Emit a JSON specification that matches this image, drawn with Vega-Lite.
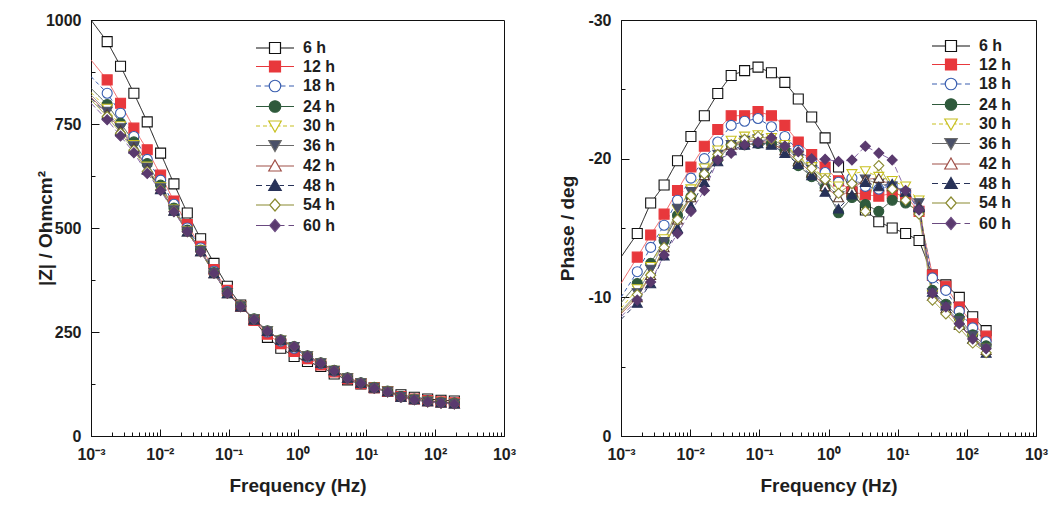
{
"$schema": "https://vega.github.io/schema/vega-lite/v6.json",
"background": "white",
"padding": {"left": 35, "top": 11, "right": 5, "bottom": 5},
"spacing": 41,
"datasets": {"bode": [
{"h":"6 h","f":0.001,"Z":1000,"P":-12.9},{"h":"6 h","f":0.001718,"Z":948,"P":-14.6},{"h":"6 h","f":0.002685,"Z":889,"P":-16.8},{"h":"6 h","f":0.004198,"Z":824,"P":-18.1},{"h":"6 h","f":0.006561,"Z":755,"P":-19.85},{"h":"6 h","f":0.01026,"Z":680,"P":-21.6},{"h":"6 h","f":0.01603,"Z":606,"P":-23.1},{"h":"6 h","f":0.02506,"Z":536,"P":-24.7},{"h":"6 h","f":0.03917,"Z":474,"P":-26.0},{"h":"6 h","f":0.06124,"Z":415,"P":-26.35},{"h":"6 h","f":0.09572,"Z":360,"P":-26.6},{"h":"6 h","f":0.1496,"Z":315,"P":-26.2},{"h":"6 h","f":0.2339,"Z":279,"P":-25.5},{"h":"6 h","f":0.3656,"Z":237,"P":-24.3},{"h":"6 h","f":0.5715,"Z":211,"P":-23.0},{"h":"6 h","f":0.8933,"Z":191,"P":-21.5},{"h":"6 h","f":1.396,"Z":179,"P":-19.4},{"h":"6 h","f":2.183,"Z":167,"P":-17.6},{"h":"6 h","f":3.412,"Z":149,"P":-16.3},{"h":"6 h","f":5.333,"Z":135,"P":-15.45},{"h":"6 h","f":8.337,"Z":125,"P":-15.0},{"h":"6 h","f":13.03,"Z":116,"P":-14.6},{"h":"6 h","f":20.37,"Z":107,"P":-14.1},{"h":"6 h","f":31.84,"Z":99,"P":-11.6},{"h":"6 h","f":49.77,"Z":93,"P":-10.9},{"h":"6 h","f":77.8,"Z":89,"P":-10.0},{"h":"6 h","f":121.6,"Z":86,"P":-8.6},{"h":"6 h","f":190.1,"Z":84,"P":-7.6},
{"h":"12 h","f":0.001,"Z":904,"P":-11.0},{"h":"12 h","f":0.001718,"Z":856,"P":-12.9},{"h":"12 h","f":0.002685,"Z":800,"P":-14.5},{"h":"12 h","f":0.004198,"Z":740,"P":-16.0},{"h":"12 h","f":0.006561,"Z":688,"P":-17.7},{"h":"12 h","f":0.01026,"Z":627,"P":-19.4},{"h":"12 h","f":0.01603,"Z":565,"P":-20.9},{"h":"12 h","f":0.02506,"Z":508,"P":-22.1},{"h":"12 h","f":0.03917,"Z":456,"P":-23.1},{"h":"12 h","f":0.06124,"Z":400,"P":-23.1},{"h":"12 h","f":0.09572,"Z":350,"P":-23.4},{"h":"12 h","f":0.1496,"Z":312,"P":-23.1},{"h":"12 h","f":0.2339,"Z":278,"P":-22.4},{"h":"12 h","f":0.3656,"Z":245,"P":-21.2},{"h":"12 h","f":0.5715,"Z":222,"P":-20.3},{"h":"12 h","f":0.8933,"Z":203,"P":-19.4},{"h":"12 h","f":1.396,"Z":186,"P":-18.4},{"h":"12 h","f":2.183,"Z":171,"P":-17.6},{"h":"12 h","f":3.412,"Z":154,"P":-17.4},{"h":"12 h","f":5.333,"Z":138,"P":-17.3},{"h":"12 h","f":8.337,"Z":126,"P":-17.5},{"h":"12 h","f":13.03,"Z":116,"P":-17.3},{"h":"12 h","f":20.37,"Z":107,"P":-16.2},{"h":"12 h","f":31.84,"Z":95,"P":-11.6},{"h":"12 h","f":49.77,"Z":89,"P":-10.8},{"h":"12 h","f":77.8,"Z":85,"P":-9.3},{"h":"12 h","f":121.6,"Z":82,"P":-8.1},{"h":"12 h","f":190.1,"Z":80,"P":-7.2},
{"h":"18 h","f":0.001,"Z":864,"P":-10.0},{"h":"18 h","f":0.001718,"Z":824,"P":-11.85},{"h":"18 h","f":0.002685,"Z":776,"P":-13.6},{"h":"18 h","f":0.004198,"Z":720,"P":-15.2},{"h":"18 h","f":0.006561,"Z":665,"P":-17.0},{"h":"18 h","f":0.01026,"Z":615,"P":-18.6},{"h":"18 h","f":0.01603,"Z":557,"P":-20.0},{"h":"18 h","f":0.02506,"Z":500,"P":-21.2},{"h":"18 h","f":0.03917,"Z":452,"P":-22.4},{"h":"18 h","f":0.06124,"Z":396,"P":-22.7},{"h":"18 h","f":0.09572,"Z":347,"P":-22.9},{"h":"18 h","f":0.1496,"Z":312,"P":-22.3},{"h":"18 h","f":0.2339,"Z":280,"P":-21.6},{"h":"18 h","f":0.3656,"Z":250,"P":-20.6},{"h":"18 h","f":0.5715,"Z":228,"P":-19.7},{"h":"18 h","f":0.8933,"Z":211,"P":-19.0},{"h":"18 h","f":1.396,"Z":190,"P":-18.3},{"h":"18 h","f":2.183,"Z":174,"P":-18.6},{"h":"18 h","f":3.412,"Z":156,"P":-18.0},{"h":"18 h","f":5.333,"Z":139,"P":-17.8},{"h":"18 h","f":8.337,"Z":127,"P":-18.1},{"h":"18 h","f":13.03,"Z":116,"P":-17.6},{"h":"18 h","f":20.37,"Z":107,"P":-16.3},{"h":"18 h","f":31.84,"Z":94,"P":-11.4},{"h":"18 h","f":49.77,"Z":88,"P":-10.5},{"h":"18 h","f":77.8,"Z":84,"P":-9.0},{"h":"18 h","f":121.6,"Z":81,"P":-7.8},{"h":"18 h","f":190.1,"Z":79,"P":-6.8},
{"h":"24 h","f":0.001,"Z":836,"P":-9.6},{"h":"24 h","f":0.001718,"Z":797,"P":-11.0},{"h":"24 h","f":0.002685,"Z":752,"P":-12.45},{"h":"24 h","f":0.004198,"Z":707,"P":-14.1},{"h":"24 h","f":0.006561,"Z":655,"P":-15.9},{"h":"24 h","f":0.01026,"Z":603,"P":-17.25},{"h":"24 h","f":0.01603,"Z":548,"P":-18.8},{"h":"24 h","f":0.02506,"Z":495,"P":-19.95},{"h":"24 h","f":0.03917,"Z":447,"P":-21.0},{"h":"24 h","f":0.06124,"Z":393,"P":-21.0},{"h":"24 h","f":0.09572,"Z":345,"P":-21.1},{"h":"24 h","f":0.1496,"Z":313,"P":-21.1},{"h":"24 h","f":0.2339,"Z":282,"P":-20.6},{"h":"24 h","f":0.3656,"Z":253,"P":-19.5},{"h":"24 h","f":0.5715,"Z":231,"P":-18.7},{"h":"24 h","f":0.8933,"Z":215,"P":-17.9},{"h":"24 h","f":1.396,"Z":193,"P":-16.1},{"h":"24 h","f":2.183,"Z":176,"P":-17.2},{"h":"24 h","f":3.412,"Z":158,"P":-16.7},{"h":"24 h","f":5.333,"Z":140,"P":-16.2},{"h":"24 h","f":8.337,"Z":128,"P":-17.0},{"h":"24 h","f":13.03,"Z":117,"P":-16.8},{"h":"24 h","f":20.37,"Z":108,"P":-16.2},{"h":"24 h","f":31.84,"Z":95,"P":-10.5},{"h":"24 h","f":49.77,"Z":89,"P":-9.5},{"h":"24 h","f":77.8,"Z":84,"P":-8.5},{"h":"24 h","f":121.6,"Z":81,"P":-7.3},{"h":"24 h","f":190.1,"Z":79,"P":-6.5},
{"h":"30 h","f":0.001,"Z":826,"P":-9.2},{"h":"30 h","f":0.001718,"Z":787,"P":-10.6},{"h":"30 h","f":0.002685,"Z":745,"P":-12.2},{"h":"30 h","f":0.004198,"Z":700,"P":-14.2},{"h":"30 h","f":0.006561,"Z":648,"P":-16.3},{"h":"30 h","f":0.01026,"Z":598,"P":-17.8},{"h":"30 h","f":0.01603,"Z":545,"P":-19.3},{"h":"30 h","f":0.02506,"Z":493,"P":-20.6},{"h":"30 h","f":0.03917,"Z":446,"P":-21.3},{"h":"30 h","f":0.06124,"Z":392,"P":-21.6},{"h":"30 h","f":0.09572,"Z":344,"P":-21.7},{"h":"30 h","f":0.1496,"Z":312,"P":-21.5},{"h":"30 h","f":0.2339,"Z":281,"P":-21.0},{"h":"30 h","f":0.3656,"Z":252,"P":-20.2},{"h":"30 h","f":0.5715,"Z":230,"P":-19.4},{"h":"30 h","f":0.8933,"Z":214,"P":-18.6},{"h":"30 h","f":1.396,"Z":192,"P":-18.0},{"h":"30 h","f":2.183,"Z":175,"P":-18.9},{"h":"30 h","f":3.412,"Z":157,"P":-19.1},{"h":"30 h","f":5.333,"Z":139,"P":-18.7},{"h":"30 h","f":8.337,"Z":127,"P":-18.4},{"h":"30 h","f":13.03,"Z":116,"P":-18.0},{"h":"30 h","f":20.37,"Z":107,"P":-17.0},{"h":"30 h","f":31.84,"Z":94,"P":-10.2},{"h":"30 h","f":49.77,"Z":88,"P":-9.2},{"h":"30 h","f":77.8,"Z":83,"P":-8.2},{"h":"30 h","f":121.6,"Z":80,"P":-7.1},{"h":"30 h","f":190.1,"Z":78,"P":-6.3},
{"h":"36 h","f":0.001,"Z":820,"P":-9.0},{"h":"36 h","f":0.001718,"Z":780,"P":-10.3},{"h":"36 h","f":0.002685,"Z":740,"P":-12.0},{"h":"36 h","f":0.004198,"Z":697,"P":-14.0},{"h":"36 h","f":0.006561,"Z":645,"P":-16.4},{"h":"36 h","f":0.01026,"Z":596,"P":-17.6},{"h":"36 h","f":0.01603,"Z":543,"P":-19.0},{"h":"36 h","f":0.02506,"Z":492,"P":-20.3},{"h":"36 h","f":0.03917,"Z":445,"P":-21.0},{"h":"36 h","f":0.06124,"Z":392,"P":-21.3},{"h":"36 h","f":0.09572,"Z":344,"P":-21.4},{"h":"36 h","f":0.1496,"Z":312,"P":-21.2},{"h":"36 h","f":0.2339,"Z":281,"P":-20.8},{"h":"36 h","f":0.3656,"Z":252,"P":-20.0},{"h":"36 h","f":0.5715,"Z":230,"P":-19.2},{"h":"36 h","f":0.8933,"Z":214,"P":-18.2},{"h":"36 h","f":1.396,"Z":192,"P":-17.3},{"h":"36 h","f":2.183,"Z":175,"P":-18.0},{"h":"36 h","f":3.412,"Z":157,"P":-18.5},{"h":"36 h","f":5.333,"Z":139,"P":-18.2},{"h":"36 h","f":8.337,"Z":127,"P":-18.0},{"h":"36 h","f":13.03,"Z":116,"P":-17.5},{"h":"36 h","f":20.37,"Z":107,"P":-16.8},{"h":"36 h","f":31.84,"Z":94,"P":-10.3},{"h":"36 h","f":49.77,"Z":88,"P":-9.3},{"h":"36 h","f":77.8,"Z":83,"P":-8.3},{"h":"36 h","f":121.6,"Z":80,"P":-7.2},{"h":"36 h","f":190.1,"Z":78,"P":-6.3},
{"h":"42 h","f":0.001,"Z":815,"P":-8.8},{"h":"42 h","f":0.001718,"Z":775,"P":-10.0},{"h":"42 h","f":0.002685,"Z":736,"P":-11.6},{"h":"42 h","f":0.004198,"Z":694,"P":-13.6},{"h":"42 h","f":0.006561,"Z":642,"P":-15.6},{"h":"42 h","f":0.01026,"Z":594,"P":-17.2},{"h":"42 h","f":0.01603,"Z":542,"P":-18.8},{"h":"42 h","f":0.02506,"Z":491,"P":-20.2},{"h":"42 h","f":0.03917,"Z":444,"P":-21.0},{"h":"42 h","f":0.06124,"Z":391,"P":-21.2},{"h":"42 h","f":0.09572,"Z":343,"P":-21.3},{"h":"42 h","f":0.1496,"Z":311,"P":-21.1},{"h":"42 h","f":0.2339,"Z":280,"P":-20.6},{"h":"42 h","f":0.3656,"Z":252,"P":-19.8},{"h":"42 h","f":0.5715,"Z":231,"P":-19.0},{"h":"42 h","f":0.8933,"Z":215,"P":-18.0},{"h":"42 h","f":1.396,"Z":193,"P":-17.2},{"h":"42 h","f":2.183,"Z":176,"P":-17.8},{"h":"42 h","f":3.412,"Z":158,"P":-18.5},{"h":"42 h","f":5.333,"Z":140,"P":-18.6},{"h":"42 h","f":8.337,"Z":128,"P":-18.0},{"h":"42 h","f":13.03,"Z":116,"P":-17.6},{"h":"42 h","f":20.37,"Z":107,"P":-16.6},{"h":"42 h","f":31.84,"Z":94,"P":-10.1},{"h":"42 h","f":49.77,"Z":88,"P":-9.2},{"h":"42 h","f":77.8,"Z":83,"P":-8.0},{"h":"42 h","f":121.6,"Z":80,"P":-7.0},{"h":"42 h","f":190.1,"Z":78,"P":-6.2},
{"h":"48 h","f":0.001,"Z":812,"P":-8.4},{"h":"48 h","f":0.001718,"Z":772,"P":-9.6},{"h":"48 h","f":0.002685,"Z":733,"P":-11.0},{"h":"48 h","f":0.004198,"Z":691,"P":-13.0},{"h":"48 h","f":0.006561,"Z":640,"P":-15.0},{"h":"48 h","f":0.01026,"Z":593,"P":-16.6},{"h":"48 h","f":0.01603,"Z":541,"P":-18.3},{"h":"48 h","f":0.02506,"Z":491,"P":-19.8},{"h":"48 h","f":0.03917,"Z":444,"P":-20.6},{"h":"48 h","f":0.06124,"Z":391,"P":-21.0},{"h":"48 h","f":0.09572,"Z":343,"P":-21.1},{"h":"48 h","f":0.1496,"Z":311,"P":-21.0},{"h":"48 h","f":0.2339,"Z":280,"P":-20.4},{"h":"48 h","f":0.3656,"Z":252,"P":-19.6},{"h":"48 h","f":0.5715,"Z":231,"P":-18.8},{"h":"48 h","f":0.8933,"Z":215,"P":-17.6},{"h":"48 h","f":1.396,"Z":193,"P":-16.4},{"h":"48 h","f":2.183,"Z":176,"P":-17.4},{"h":"48 h","f":3.412,"Z":158,"P":-18.3},{"h":"48 h","f":5.333,"Z":140,"P":-18.0},{"h":"48 h","f":8.337,"Z":128,"P":-18.2},{"h":"48 h","f":13.03,"Z":116,"P":-17.6},{"h":"48 h","f":20.37,"Z":107,"P":-16.5},{"h":"48 h","f":31.84,"Z":94,"P":-10.4},{"h":"48 h","f":49.77,"Z":88,"P":-9.4},{"h":"48 h","f":77.8,"Z":83,"P":-8.1},{"h":"48 h","f":121.6,"Z":80,"P":-7.0},{"h":"48 h","f":190.1,"Z":78,"P":-6.0},
{"h":"54 h","f":0.001,"Z":808,"P":-8.9},{"h":"54 h","f":0.001718,"Z":768,"P":-10.2},{"h":"54 h","f":0.002685,"Z":728,"P":-11.6},{"h":"54 h","f":0.004198,"Z":687,"P":-13.6},{"h":"54 h","f":0.006561,"Z":636,"P":-15.6},{"h":"54 h","f":0.01026,"Z":592,"P":-17.3},{"h":"54 h","f":0.01603,"Z":540,"P":-18.9},{"h":"54 h","f":0.02506,"Z":491,"P":-20.3},{"h":"54 h","f":0.03917,"Z":443,"P":-21.0},{"h":"54 h","f":0.06124,"Z":391,"P":-21.4},{"h":"54 h","f":0.09572,"Z":343,"P":-21.6},{"h":"54 h","f":0.1496,"Z":311,"P":-21.4},{"h":"54 h","f":0.2339,"Z":280,"P":-20.9},{"h":"54 h","f":0.3656,"Z":252,"P":-20.1},{"h":"54 h","f":0.5715,"Z":231,"P":-19.3},{"h":"54 h","f":0.8933,"Z":215,"P":-18.5},{"h":"54 h","f":1.396,"Z":192,"P":-17.5},{"h":"54 h","f":2.183,"Z":175,"P":-18.2},{"h":"54 h","f":3.412,"Z":157,"P":-16.2},{"h":"54 h","f":5.333,"Z":139,"P":-19.5},{"h":"54 h","f":8.337,"Z":127,"P":-17.8},{"h":"54 h","f":13.03,"Z":115,"P":-17.0},{"h":"54 h","f":20.37,"Z":106,"P":-16.0},{"h":"54 h","f":31.84,"Z":93,"P":-9.8},{"h":"54 h","f":49.77,"Z":87,"P":-8.8},{"h":"54 h","f":77.8,"Z":82,"P":-7.8},{"h":"54 h","f":121.6,"Z":79,"P":-6.7},{"h":"54 h","f":190.1,"Z":77,"P":-6.0},
{"h":"60 h","f":0.001,"Z":800,"P":-8.6},{"h":"60 h","f":0.001718,"Z":760,"P":-9.8},{"h":"60 h","f":0.002685,"Z":721,"P":-11.1},{"h":"60 h","f":0.004198,"Z":681,"P":-13.05},{"h":"60 h","f":0.006561,"Z":631,"P":-14.6},{"h":"60 h","f":0.01026,"Z":590,"P":-16.2},{"h":"60 h","f":0.01603,"Z":539,"P":-17.7},{"h":"60 h","f":0.02506,"Z":491,"P":-19.9},{"h":"60 h","f":0.03917,"Z":443,"P":-20.4},{"h":"60 h","f":0.06124,"Z":391,"P":-21.0},{"h":"60 h","f":0.09572,"Z":343,"P":-21.2},{"h":"60 h","f":0.1496,"Z":311,"P":-21.5},{"h":"60 h","f":0.2339,"Z":280,"P":-20.9},{"h":"60 h","f":0.3656,"Z":252,"P":-20.5},{"h":"60 h","f":0.5715,"Z":231,"P":-20.0},{"h":"60 h","f":0.8933,"Z":215,"P":-19.95},{"h":"60 h","f":1.396,"Z":192,"P":-19.8},{"h":"60 h","f":2.183,"Z":175,"P":-19.9},{"h":"60 h","f":3.412,"Z":157,"P":-20.9},{"h":"60 h","f":5.333,"Z":139,"P":-20.4},{"h":"60 h","f":8.337,"Z":127,"P":-19.9},{"h":"60 h","f":13.03,"Z":115,"P":-17.7},{"h":"60 h","f":20.37,"Z":106,"P":-16.3},{"h":"60 h","f":31.84,"Z":93,"P":-10.3},{"h":"60 h","f":49.77,"Z":87,"P":-9.3},{"h":"60 h","f":77.8,"Z":82,"P":-8.1},{"h":"60 h","f":121.6,"Z":79,"P":-7.0},{"h":"60 h","f":190.1,"Z":77,"P":-6.3}
]},
"config": {
  "font": "Liberation Sans",
  "view": {"stroke": "#111111", "strokeWidth": 1},
  "axis": {"grid": false, "labelFont": "Liberation Sans", "labelFontWeight": "bold", "labelFontSize": 16, "labelColor": "#1e1e1e", "titleFont": "Liberation Sans", "titleFontWeight": "bold", "titleFontSize": 19, "titleColor": "#1e1e1e", "domainColor": "#111111", "tickColor": "#111111", "tickWidth": 1, "labelFlush": false, "labelOverlap": false},
  "legend": {"symbolOpacity": 1, "symbolStrokeWidth": 1.2, "symbolSize": 100, "labelFont": "Liberation Sans", "labelFontWeight": "bold", "labelFontSize": 16, "labelColor": "#1e1e1e", "labelOffset": 20, "rowPadding": 2.5, "padding": 0}
},
"hconcat": [
 {
  "width": 413, "height": 416,
  "data": {"name": "bode"},
  "layer": [
   {"mark": {"type": "line", "strokeWidth": 1, "clip": true},
    "encoding": {
      "x": {"field": "f", "type": "quantitative", "scale": {"type": "log", "domain": [0.001, 1000], "nice": false},
            "axis": {"orient": "bottom", "values": [0.001, 0.01, 0.1, 1, 10, 100, 1000], "labelExpr": "datum.value < 0.005 ? '10⁻³' : datum.value < 0.05 ? '10⁻²' : datum.value < 0.5 ? '10⁻¹' : datum.value < 5 ? '10⁰' : datum.value < 50 ? '10¹' : datum.value < 500 ? '10²' : '10³'", "tickSize": -7, "labelPadding": 17, "title": "Frequency (Hz)", "titlePadding": 14}},
      "y": {"field": "Z", "type": "quantitative", "scale": {"domain": [0, 1000], "nice": false},
            "axis": {"orient": "left", "values": [0, 250, 500, 750, 1000], "labelExpr": "'' + datum.value", "tickSize": -8, "labelPadding": 18, "title": "|Z| / Ohmcm²", "titlePadding": -10}},
      "stroke": {"field": "h", "type": "nominal", "legend": null, "scale": {"domain": ["6 h","12 h","18 h","24 h","30 h","36 h","42 h","48 h","54 h","60 h"], "range": ["#111111","#f06060","#3a5fb0","#4a5a4a","#d6d030","#8a8a8a","#b05a50","#2a3560","#a0a040","#8a6aaa"]}},
      "strokeDash": {"field": "h", "type": "nominal", "legend": null, "scale": {"domain": ["6 h","12 h","18 h","24 h","30 h","36 h","42 h","48 h","54 h","60 h"], "range": [[1,0],[1,0],[4,3],[1,0],[4,3],[1,0],[1,0],[5,4],[1,0],[6,3]]}}
    }},
   {"transform": [{"filter": "datum.f > 0.0015"}],
    "mark": {"type": "point", "size": 100, "strokeWidth": 1.1, "opacity": 1},
    "encoding": {
      "x": {"field": "f", "type": "quantitative", "axis": {"orient": "bottom", "values": [0.002,0.003,0.004,0.005,0.006,0.007,0.008,0.009,0.02,0.03,0.04,0.05,0.06,0.07,0.08,0.09,0.2,0.3,0.4,0.5,0.6,0.7,0.8,0.9,2,3,4,5,6,7,8,9,20,30,40,50,60,70,80,90,200,300,400,500,600,700,800,900], "labels": false, "tickSize": -4, "domain": false, "title": null}},
      "y": {"field": "Z", "type": "quantitative", "axis": {"orient": "left", "values": [125, 375, 625, 875], "labels": false, "tickSize": -4, "domain": false, "title": null}},
      "shape": {"field": "h", "type": "nominal", "legend": null, "scale": {"domain": ["6 h","12 h","18 h","24 h","30 h","36 h","42 h","48 h","54 h","60 h"], "range": ["square","square","circle","circle","triangle-down","triangle-down","triangle-up","triangle-up","diamond","diamond"]}},
      "fill": {"field": "h", "type": "nominal", "legend": null, "scale": {"domain": ["6 h","12 h","18 h","24 h","30 h","36 h","42 h","48 h","54 h","60 h"], "range": ["#ffffff","#e8383c","#ffffff","#2f5a3c","#ffffff","#4a5068","#ffffff","#283258","#ffffff","#5a3a6e"]}},
      "stroke": {"field": "h", "type": "nominal", "legend": null, "scale": {"domain": ["6 h","12 h","18 h","24 h","30 h","36 h","42 h","48 h","54 h","60 h"], "range": ["#111111","#e8383c","#3a5fb0","#2f5a3c","#c8c020","#4a5068","#5a3a30","#283258","#8a8a30","#5a3a6e"]}}
    }},
   {"transform": [{"filter": "datum.f > 150"}],
    "mark": {"type": "point", "size": 100, "opacity": 0},
    "encoding": {
      "x": {"field": "f", "type": "quantitative", "axis": null},
      "y": {"field": "Z", "type": "quantitative", "axis": null},
      "fill": {"field": "h", "type": "nominal", "legend": {"orient": "none", "legendX": 176, "legendY": 20, "title": null}, "scale": {"domain": ["6 h","12 h","18 h","24 h","30 h","36 h","42 h","48 h","54 h","60 h"], "range": ["#ffffff","#e8383c","#ffffff","#2f5a3c","#ffffff","#4a5068","#ffffff","#283258","#ffffff","#5a3a6e"]}},
      "stroke": {"field": "h", "type": "nominal", "legend": {"orient": "none", "legendX": 176, "legendY": 20, "title": null}, "scale": {"domain": ["6 h","12 h","18 h","24 h","30 h","36 h","42 h","48 h","54 h","60 h"], "range": ["#111111","#e8383c","#3a5fb0","#2f5a3c","#c8c020","#6a6a6a","#a05048","#283258","#8a8a30","#6a4a80"]}},
      "shape": {"field": "h", "type": "nominal", "legend": {"orient": "none", "legendX": 176, "legendY": 20, "title": null}, "scale": {"domain": ["6 h","12 h","18 h","24 h","30 h","36 h","42 h","48 h","54 h","60 h"], "range": [
        "M-3.8,0H-1.1M1.1,0H3.8M-1.1,-1.1H1.1V1.1H-1.1Z",
        "M-3.8,0H-1.1M1.1,0H3.8M-1.1,-1.1H1.1V1.1H-1.1Z",
        "M-3.8,0H-2.8M-2.1,0H-1.15M1.15,0H2.1M2.8,0H3.8M1.15,0A1.15,1.15,0,1,1,-1.15,0A1.15,1.15,0,1,1,1.15,0Z",
        "M-3.8,0H-1.15M1.15,0H3.8M1.15,0A1.15,1.15,0,1,1,-1.15,0A1.15,1.15,0,1,1,1.15,0Z",
        "M-3.8,0H-3.0M-2.4,0H-1.6M-1.1,0H-0.68M0.68,0H1.1M1.6,0H2.4M3.0,0H3.8M-1.25,-1L1.25,-1L0,1.2Z",
        "M-3.8,0H-0.68M0.68,0H3.8M-1.25,-1L1.25,-1L0,1.2Z",
        "M-3.8,0H-0.68M0.68,0H3.8M0,-1.2L1.25,1L-1.25,1Z",
        "M-3.8,0H-2.6M-1.8,0H-0.9M0.9,0H1.8M2.6,0H3.8M0,-1.2L1.25,1L-1.25,1Z",
        "M-3.8,0H-1.05M1.05,0H3.8M0,-1.2L1.05,0L0,1.2L-1.05,0Z",
        "M-3.8,0H-1.05M1.05,0H1.9M2.7,0H3.8M0,-1.2L1.05,0L0,1.2L-1.05,0Z"]}}
    }}
  ],
  "resolve": {"scale": {"shape": "independent", "fill": "independent", "stroke": "independent", "strokeDash": "independent"}, "axis": {"x": "independent", "y": "independent"}}
 },
 {
  "width": 415, "height": 416,
  "data": {"name": "bode"},
  "layer": [
   {"mark": {"type": "line", "strokeWidth": 1, "clip": true},
    "encoding": {
      "x": {"field": "f", "type": "quantitative", "scale": {"type": "log", "domain": [0.001, 1000], "nice": false},
            "axis": {"orient": "bottom", "values": [0.001, 0.01, 0.1, 1, 10, 100, 1000], "labelExpr": "datum.value < 0.005 ? '10⁻³' : datum.value < 0.05 ? '10⁻²' : datum.value < 0.5 ? '10⁻¹' : datum.value < 5 ? '10⁰' : datum.value < 50 ? '10¹' : datum.value < 500 ? '10²' : '10³'", "tickSize": -7, "labelPadding": 17, "title": "Frequency (Hz)", "titlePadding": 14}},
      "y": {"field": "P", "type": "quantitative", "scale": {"domain": [-30, 0], "nice": false, "reverse": true},
            "axis": {"orient": "left", "values": [-30, -20, -10, 0], "labelExpr": "'' + datum.value", "tickSize": -8, "labelPadding": 18, "title": "Phase / deg", "titlePadding": 10}},
      "stroke": {"field": "h", "type": "nominal", "legend": null, "scale": {"domain": ["6 h","12 h","18 h","24 h","30 h","36 h","42 h","48 h","54 h","60 h"], "range": ["#111111","#f06060","#3a5fb0","#4a5a4a","#d6d030","#8a8a8a","#b05a50","#2a3560","#a0a040","#8a6aaa"]}},
      "strokeDash": {"field": "h", "type": "nominal", "legend": null, "scale": {"domain": ["6 h","12 h","18 h","24 h","30 h","36 h","42 h","48 h","54 h","60 h"], "range": [[1,0],[1,0],[4,3],[1,0],[4,3],[1,0],[1,0],[5,4],[1,0],[6,3]]}}
    }},
   {"transform": [{"filter": "datum.f > 0.0015"}],
    "mark": {"type": "point", "size": 100, "strokeWidth": 1.1, "opacity": 1},
    "encoding": {
      "x": {"field": "f", "type": "quantitative", "axis": {"orient": "bottom", "values": [0.002,0.003,0.004,0.005,0.006,0.007,0.008,0.009,0.02,0.03,0.04,0.05,0.06,0.07,0.08,0.09,0.2,0.3,0.4,0.5,0.6,0.7,0.8,0.9,2,3,4,5,6,7,8,9,20,30,40,50,60,70,80,90,200,300,400,500,600,700,800,900], "labels": false, "tickSize": -4, "domain": false, "title": null}},
      "y": {"field": "P", "type": "quantitative", "axis": {"orient": "left", "values": [-25, -15, -5], "labels": false, "tickSize": -4, "domain": false, "title": null}},
      "shape": {"field": "h", "type": "nominal", "legend": null, "scale": {"domain": ["6 h","12 h","18 h","24 h","30 h","36 h","42 h","48 h","54 h","60 h"], "range": ["square","square","circle","circle","triangle-down","triangle-down","triangle-up","triangle-up","diamond","diamond"]}},
      "fill": {"field": "h", "type": "nominal", "legend": null, "scale": {"domain": ["6 h","12 h","18 h","24 h","30 h","36 h","42 h","48 h","54 h","60 h"], "range": ["#ffffff","#e8383c","#ffffff","#2f5a3c","#ffffff","#4a5068","#ffffff","#283258","#ffffff","#5a3a6e"]}},
      "stroke": {"field": "h", "type": "nominal", "legend": null, "scale": {"domain": ["6 h","12 h","18 h","24 h","30 h","36 h","42 h","48 h","54 h","60 h"], "range": ["#111111","#e8383c","#3a5fb0","#2f5a3c","#c8c020","#4a5068","#5a3a30","#283258","#8a8a30","#5a3a6e"]}}
    }},
   {"transform": [{"filter": "datum.f > 150"}],
    "mark": {"type": "point", "size": 100, "opacity": 0},
    "encoding": {
      "x": {"field": "f", "type": "quantitative", "axis": null},
      "y": {"field": "P", "type": "quantitative", "axis": null},
      "fill": {"field": "h", "type": "nominal", "legend": {"orient": "none", "legendX": 322, "legendY": 18, "title": null}, "scale": {"domain": ["6 h","12 h","18 h","24 h","30 h","36 h","42 h","48 h","54 h","60 h"], "range": ["#ffffff","#e8383c","#ffffff","#2f5a3c","#ffffff","#4a5068","#ffffff","#283258","#ffffff","#5a3a6e"]}},
      "stroke": {"field": "h", "type": "nominal", "legend": {"orient": "none", "legendX": 322, "legendY": 18, "title": null}, "scale": {"domain": ["6 h","12 h","18 h","24 h","30 h","36 h","42 h","48 h","54 h","60 h"], "range": ["#111111","#e8383c","#3a5fb0","#2f5a3c","#c8c020","#6a6a6a","#a05048","#283258","#8a8a30","#6a4a80"]}},
      "shape": {"field": "h", "type": "nominal", "legend": {"orient": "none", "legendX": 322, "legendY": 18, "title": null}, "scale": {"domain": ["6 h","12 h","18 h","24 h","30 h","36 h","42 h","48 h","54 h","60 h"], "range": [
        "M-3.8,0H-1.1M1.1,0H3.8M-1.1,-1.1H1.1V1.1H-1.1Z",
        "M-3.8,0H-1.1M1.1,0H3.8M-1.1,-1.1H1.1V1.1H-1.1Z",
        "M-3.8,0H-2.8M-2.1,0H-1.15M1.15,0H2.1M2.8,0H3.8M1.15,0A1.15,1.15,0,1,1,-1.15,0A1.15,1.15,0,1,1,1.15,0Z",
        "M-3.8,0H-1.15M1.15,0H3.8M1.15,0A1.15,1.15,0,1,1,-1.15,0A1.15,1.15,0,1,1,1.15,0Z",
        "M-3.8,0H-3.0M-2.4,0H-1.6M-1.1,0H-0.68M0.68,0H1.1M1.6,0H2.4M3.0,0H3.8M-1.25,-1L1.25,-1L0,1.2Z",
        "M-3.8,0H-0.68M0.68,0H3.8M-1.25,-1L1.25,-1L0,1.2Z",
        "M-3.8,0H-0.68M0.68,0H3.8M0,-1.2L1.25,1L-1.25,1Z",
        "M-3.8,0H-2.6M-1.8,0H-0.9M0.9,0H1.8M2.6,0H3.8M0,-1.2L1.25,1L-1.25,1Z",
        "M-3.8,0H-1.05M1.05,0H3.8M0,-1.2L1.05,0L0,1.2L-1.05,0Z",
        "M-3.8,0H-1.05M1.05,0H1.9M2.7,0H3.8M0,-1.2L1.05,0L0,1.2L-1.05,0Z"]}}
    }}
  ],
  "resolve": {"scale": {"shape": "independent", "fill": "independent", "stroke": "independent", "strokeDash": "independent"}, "axis": {"x": "independent", "y": "independent"}}
 }
]
}
